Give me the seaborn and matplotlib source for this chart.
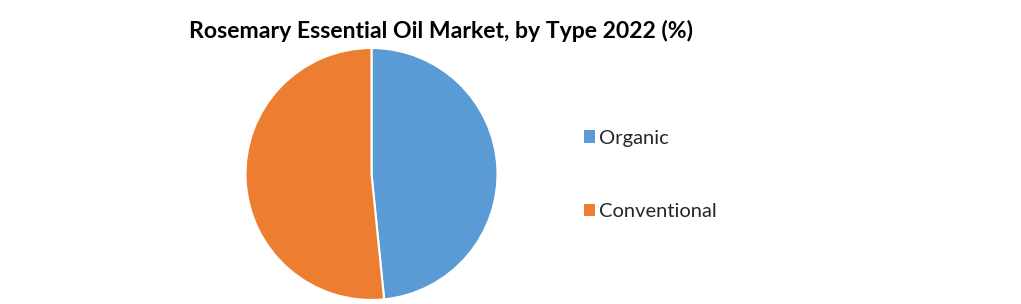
import matplotlib
matplotlib.use("Agg")
import matplotlib.pyplot as plt
import seaborn as sns
from matplotlib.patches import Patch

categories = ["Organic", "Conventional"]
shares = [48.4, 51.6]
colors = ["#5b9bd5", "#ed7d31"]

sns.set_theme(style="white")
plt.rcParams["font.family"] = ["Lato", "DejaVu Sans"]

fig = plt.figure(figsize=(10.21, 3.04), dpi=100)
ax = fig.add_axes([245/1021, 1-300/304, 253/1021, 252/304])
wedges, _ = ax.pie(shares, colors=sns.color_palette(colors), startangle=90, counterclock=False,
                   wedgeprops=dict(edgecolor="white", linewidth=1.5))
ax.set_xlim(-1.0, 1.0)
ax.set_ylim(-1.0, 1.0)
ax.set_aspect("equal")

fig.text(441/1021, 1-31/304, "Rosemary Essential Oil Market, by Type 2022 (%)",
         ha="center", va="center", fontsize=16.6, fontweight="bold", color="black")

handles = [Patch(facecolor=c, edgecolor="none") for c in colors]
fig.legend(handles, categories, loc="center left", bbox_to_anchor=(584/1021, 1-175/304),
           frameon=False, fontsize=14.5, handlelength=0.55, handleheight=0.55,
           handletextpad=0.17, labelspacing=2.82, borderaxespad=0, borderpad=0)

fig.savefig("out.png", dpi=100)
